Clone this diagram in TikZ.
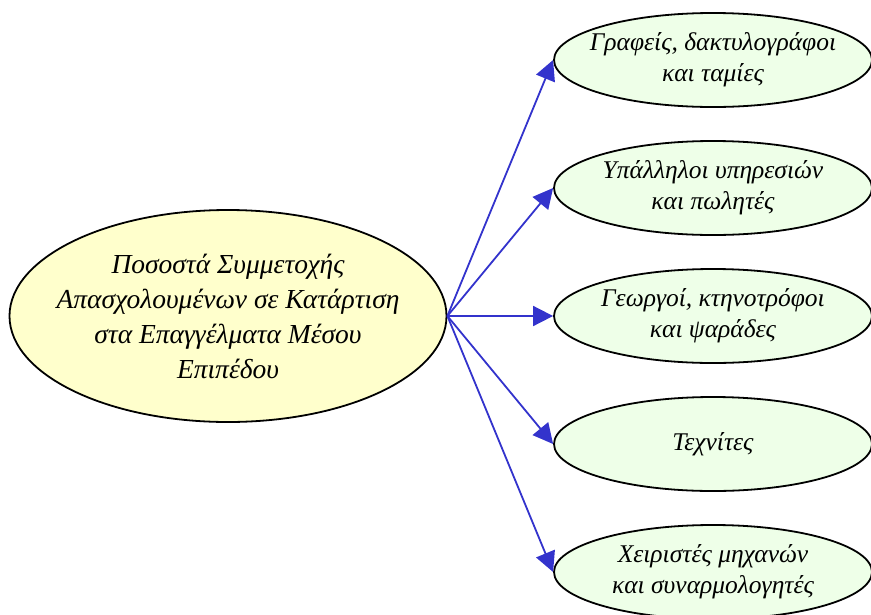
\documentclass[tikz,border=0pt]{standalone}
\usepackage{fontspec}
\setmainfont{Liberation Serif}
\usepackage{tikz}
\usetikzlibrary{arrows.meta, positioning, shapes.geometric}
\definecolor{rootfill}{HTML}{FFFFCC}
\definecolor{leaffill}{HTML}{EEFFE8}
\definecolor{spokeblue}{HTML}{3333CC}

\begin{document}
\begin{tikzpicture}[x=1pt, y=-1pt,
    root/.style={ellipse, draw=black, line width=1.8pt, fill=rootfill,
      minimum width=437pt, minimum height=212pt,
      inner xsep=-60pt, inner ysep=-30pt,
      align=center, font=\itshape\fontsize{27.5}{35}\selectfont},
    leaf/.style={ellipse, draw=black, line width=1.8pt, fill=leaffill,
      minimum width=318pt, minimum height=94pt,
      inner xsep=-60pt, inner ysep=-30pt,
      align=center, font=\itshape\fontsize{25.5}{31}\selectfont},
    spoke/.style={draw=spokeblue, line width=1.8pt,
      -{Triangle[length=20pt, width=20pt]}}]
  \useasboundingbox (0,0) rectangle (871,614);
  % central topic
  \node[root] (share) at (228,316) {Ποσοστά Συμμετοχής\\Απασχολουμένων σε Κατάρτιση\\στα Επαγγέλματα Μέσου\\Επιπέδου};
  % occupation groups, one ellipse per row
  \foreach \i/\y/\txt in {1/60/{Γραφείς, δακτυλογράφοι\\και ταμίες},
      2/188/{Υπάλληλοι υπηρεσιών\\και πωλητές},
      3/316/{Γεωργοί, κτηνοτρόφοι\\και ψαράδες},
      4/444/{Τεχνίτες},
      5/572/{Χειριστές μηχανών\\και συναρμολογητές}}
    \node[leaf] (job\i) at (713,\y) {\txt};
  % spokes from the centre to each group
  \foreach \i in {1,...,5}
    \draw[spoke] (share.east) -- (job\i.west);
\end{tikzpicture}
\end{document}
